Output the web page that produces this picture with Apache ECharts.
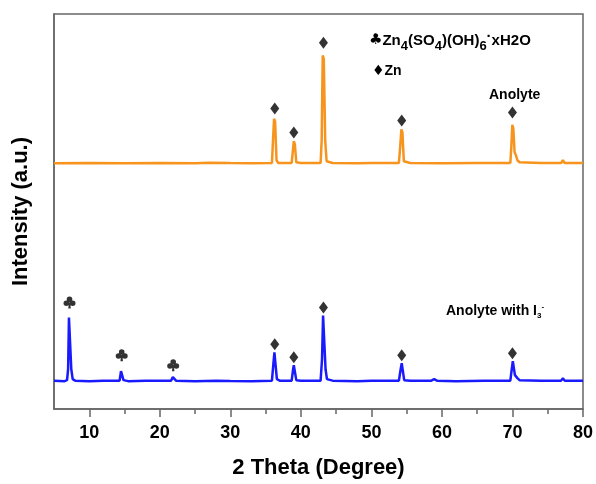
<!DOCTYPE html>
<html><head><meta charset="utf-8">
<script src="https://cdn.jsdelivr.net/npm/echarts@6/dist/echarts.min.js"></script>
<style>html,body{margin:0;padding:0;background:#fff}#c{width:596px;height:484px}</style>
</head><body><div id="c"></div>
<script>
// 2 Theta (degree) / intensity (a.u., plot units) pairs
const blueXRD = [[5,28.5],[6.5,28],[6.85,29],[7.0,40],[7.12,92],[7.28,90],[7.45,40],[7.65,30],[8.0,28.5],[10,28],[12,28.3],[14.3,28.5],[14.5,38],[14.65,37],[14.85,29],[15.5,28],[18,28.3],[21.6,28.5],[21.85,32],[22.05,31],[22.3,28.5],[25,28],[28,28.5],[30,28.2],[33,28],[35.9,28.5],[36.1,45],[36.25,57],[36.4,55],[36.6,30],[37,28.5],[38.7,28.5],[38.9,40],[39.0,44],[39.15,42],[39.35,29],[40,28.5],[42.8,28.5],[43.0,50],[43.15,94],[43.3,92],[43.5,40],[43.7,30],[44.5,28.5],[48,28],[50,28.3],[53.9,28.5],[54.15,40],[54.3,46],[54.45,44],[54.65,29],[55.5,28.5],[58.5,28.5],[58.9,30],[59.3,28.5],[62,28],[66,28.3],[69.7,28.5],[69.9,40],[70.05,48],[70.2,46],[70.35,34],[70.55,35],[70.7,31],[71,29],[74,28.3],[76.9,28.5],[77.15,31],[77.4,28.5],[80,28.3]];
const orangeXRD = [[5,247],[10,247.3],[15,247],[20,247.2],[25,247],[27,247.5],[30,247.2],[33,247],[35.9,247.3],[36.05,270],[36.2,291.7],[36.35,289],[36.55,250],[36.8,247.3],[38.7,247.3],[38.9,262],[39.0,269.3],[39.15,266],[39.35,248],[40,247.2],[42.8,247.3],[42.95,270],[43.1,355.3],[43.25,352],[43.45,270],[43.65,249],[44.5,247.3],[48,247],[50,247.2],[53.9,247.3],[54.1,265],[54.25,281],[54.4,278],[54.6,249],[55.5,247.2],[60,247],[65,247.3],[69.7,247.3],[69.85,265],[69.98,285.7],[70.12,282],[70.3,258],[70.5,255],[70.7,250],[71,248],[74,247.2],[76.9,247.3],[77.15,250],[77.4,247.3],[80,247.2]];
const zincMarks = [[36.3,302],[39.0,278],[43.2,368],[54.3,290],[70.0,298],[36.3,65],[39.0,52],[43.2,102],[54.3,54],[70.0,56]];
const zshMarks = [[7.2,107],[14.6,54],[21.9,44]];
const majorTicks = [10,20,30,40,50,60,70,80];
const minorTicks = [15,25,35,45,55,65,75];

const CLUB = 'path://M50,3 A22,22 0 1 1 49.99,3 Z M25,36 A22,22 0 1 1 24.99,36 Z M75,36 A22,22 0 1 1 74.99,36 Z M45,50 L55,50 L60,100 L40,100 Z';

const chart = echarts.init(document.getElementById('c'));
const FONT = 'Liberation Sans';
const AX = '#666';
chart.setOption({
  backgroundColor: '#fff',
  animation: false,
  grid: {left: 54, right: 13, top: 14, bottom: 73, show: true, borderColor: AX, borderWidth: 1.5, backgroundColor: 'transparent'},
  xAxis: [{
    type: 'value', min: 5, max: 80, position: 'bottom',
    name: '2 Theta (Degree)', nameLocation: 'middle', nameGap: 48,
    nameTextStyle: {fontFamily: FONT, fontWeight: 'bold', fontSize: 22, color: '#000'},
    axisLine: {show: true, lineStyle: {color: AX, width: 1.5}},
    axisTick: {show: true, inside: false, length: 8, customValues: majorTicks, lineStyle: {color: AX, width: 1.5}},
    axisLabel: {show: true, customValues: majorTicks, margin: 15, fontFamily: FONT, fontWeight: 'bold', fontSize: 18, color: '#000'},
    splitLine: {show: false}
  },{
    type: 'value', min: 5, max: 80, position: 'bottom', gridIndex: 0,
    axisLine: {show: false},
    axisTick: {show: true, inside: false, length: 5, customValues: minorTicks, lineStyle: {color: AX, width: 1.5}},
    axisLabel: {show: false},
    splitLine: {show: false}
  }],
  yAxis: {
    type: 'value', min: 0, max: 397,
    name: 'Intensity (a.u.)', nameLocation: 'middle', nameGap: 22,
    nameTextStyle: {fontFamily: FONT, fontWeight: 'bold', fontSize: 22, color: '#000'},
    axisLine: {show: true, lineStyle: {color: AX, width: 1.5}},
    axisTick: {show: false}, axisLabel: {show: false}, splitLine: {show: false}
  },
  series: [
    {type: 'line', data: orangeXRD, showSymbol: false, symbol: 'none', lineStyle: {color: '#f7941d', width: 2.5}, z: 2},
    {type: 'line', data: blueXRD, showSymbol: false, symbol: 'none', lineStyle: {color: '#1a1aff', width: 2.5}, z: 2},
    {type: 'scatter', data: zincMarks, symbol: 'diamond', symbolSize: [9, 12], itemStyle: {color: '#000'}, z: 3},
    {type: 'scatter', data: zshMarks, symbol: CLUB, symbolSize: [12, 12], itemStyle: {color: '#000'}, z: 3}
  ],
  graphic: [
    {type: 'text', left: 369, top: 29, style: {
      text: '{c|♣}{t|Zn}{s|4}{t|(SO}{s|4}{t|)(OH)}{s|6}{d|·}{t|xH2O}',
      rich: {
        c: {fontFamily: 'DejaVu Sans', fontSize: 15, fill: '#000'},
        t: {fontFamily: FONT, fontWeight: 'bold', fontSize: 15, fill: '#000'},
        d: {fontFamily: FONT, fontWeight: 'bold', fontSize: 15, fill: '#000', padding: [0, 0, 8, 0]},
        s: {fontFamily: FONT, fontWeight: 'bold', fontSize: 13, fill: '#000', padding: [12, 0, 0, 0]}
      }}},
    {type: 'text', left: 372, top: 64, style: {
      text: '{c|♦}{t|Zn}',
      rich: {
        c: {fontFamily: 'DejaVu Sans', fontSize: 14, fill: '#000'},
        t: {fontFamily: FONT, fontWeight: 'bold', fontSize: 14, fill: '#000'}
      }}},
    {type: 'text', left: 489, top: 88, style: {text: 'Anolyte', fontFamily: FONT, fontWeight: 'bold', fontSize: 14, fill: '#000'}},
    {type: 'text', left: 446, top: 303, style: {
      text: '{t|Anolyte with I}{s|3}{p|-}',
      rich: {
        t: {fontFamily: FONT, fontWeight: 'bold', fontSize: 14, fill: '#000'},
        s: {fontFamily: FONT, fontWeight: 'bold', fontSize: 8, fill: '#000', padding: [9, 0, 0, 0]},
        p: {fontFamily: FONT, fontWeight: 'bold', fontSize: 8, fill: '#000', padding: [0, 0, 9, 0]}
      }}}
  ]
});
</script></body></html>
